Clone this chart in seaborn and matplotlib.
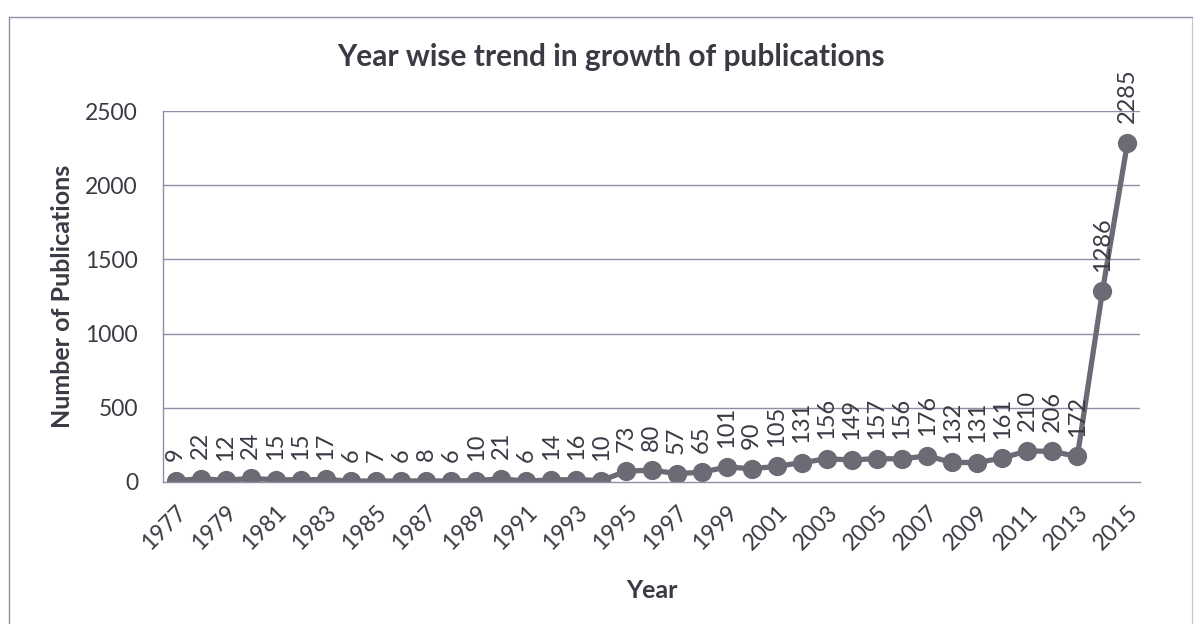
import matplotlib
matplotlib.use("Agg")
import matplotlib.pyplot as plt
import seaborn as sns
import pandas as pd
from matplotlib.lines import Line2D
from matplotlib.ticker import FixedLocator

years = [str(y) for y in range(1977, 2016)]
publications = [9, 22, 12, 24, 15, 15, 17, 6, 7, 6, 8, 6, 10, 21, 6, 14, 16, 10,
                73, 80, 57, 65, 101, 90, 105, 131, 156, 149, 157, 156, 176, 132,
                131, 161, 210, 206, 172, 1286, 2285]
y_ticks = [0, 500, 1000, 1500, 2000, 2500]

title = "Year wise trend in growth of publications"
x_label = "Year"
y_label = "Number of Publications"

sns.set_theme(style="white")
plt.rcParams["font.family"] = ["Lato", "DejaVu Sans"]

df = pd.DataFrame({"Year": years, "Publications": publications})

fig = plt.figure(figsize=(11.98, 6.24), dpi=100)
ax = fig.add_axes([163 / 1198, 1 - 482 / 624, (1140 - 163) / 1198, (482 - 111) / 624])

grid_c = "#8e8ea6"
line_c = "#6b6b76"
text_c = "#3a3a44"

sns.pointplot(data=df, x="Year", y="Publications", ax=ax, color=line_c,
              markers="o", linewidth=3.8, markersize=11, errorbar=None)

ax.set_ylim(0, 2500)
ax.set_xlim(-0.5, len(years) - 0.5)
ax.set_yticks(y_ticks)
ax.set_yticklabels([str(t) for t in y_ticks], fontsize=16.5, color=text_c)
for t in y_ticks[1:]:
    ax.axhline(t, color=grid_c, lw=1.0, zorder=0)

# x ticks: labels every other year, tick marks at category boundaries
ax.set_xticks(range(0, len(years), 2))
ax.set_xticklabels(years[::2], rotation=45, ha="right", va="top",
                   rotation_mode="anchor", fontsize=16.5, color=text_c)
ax.tick_params(axis="x", which="major", length=0, pad=14)
ax.xaxis.set_minor_locator(FixedLocator([i - 0.5 for i in range(len(years) + 1)]))
ax.tick_params(axis="x", which="minor", length=6, color=grid_c, width=1, direction="out")
ax.tick_params(axis="y", which="major", length=6, color=grid_c, width=1, direction="out", pad=12)

for s in ["top", "right"]:
    ax.spines[s].set_visible(False)
for s in ["left", "bottom"]:
    ax.spines[s].set_color(grid_c)
    ax.spines[s].set_linewidth(1.0)

for i, v in enumerate(publications):
    ax.annotate(str(v), (i, v), xytext=(0, 14), textcoords="offset points",
                rotation=90, ha="center", va="bottom", fontsize=17, color=text_c,
                annotation_clip=False)

ax.set_xlabel(x_label, fontsize=18, fontweight="bold", color=text_c, labelpad=18)
ax.set_ylabel(y_label, fontsize=18, fontweight="bold", color=text_c, labelpad=8)
fig.text(611 / 1198, 1 - 57 / 624, title, ha="center", va="center",
         fontsize=21.5, fontweight="bold", color=text_c)

# outer chart border
fig.add_artist(Line2D([9 / 1198, 9 / 1198], [0, 1 - 17 / 624], color=grid_c, lw=1.0))
fig.add_artist(Line2D([9 / 1198, 1192 / 1198], [1 - 17 / 624, 1 - 17 / 624], color=grid_c, lw=1.0))
fig.add_artist(Line2D([1192 / 1198, 1192 / 1198], [0, 1 - 17 / 624], color=grid_c, lw=0.8, alpha=0.5))

fig.savefig("out.png", dpi=100, facecolor="white")
